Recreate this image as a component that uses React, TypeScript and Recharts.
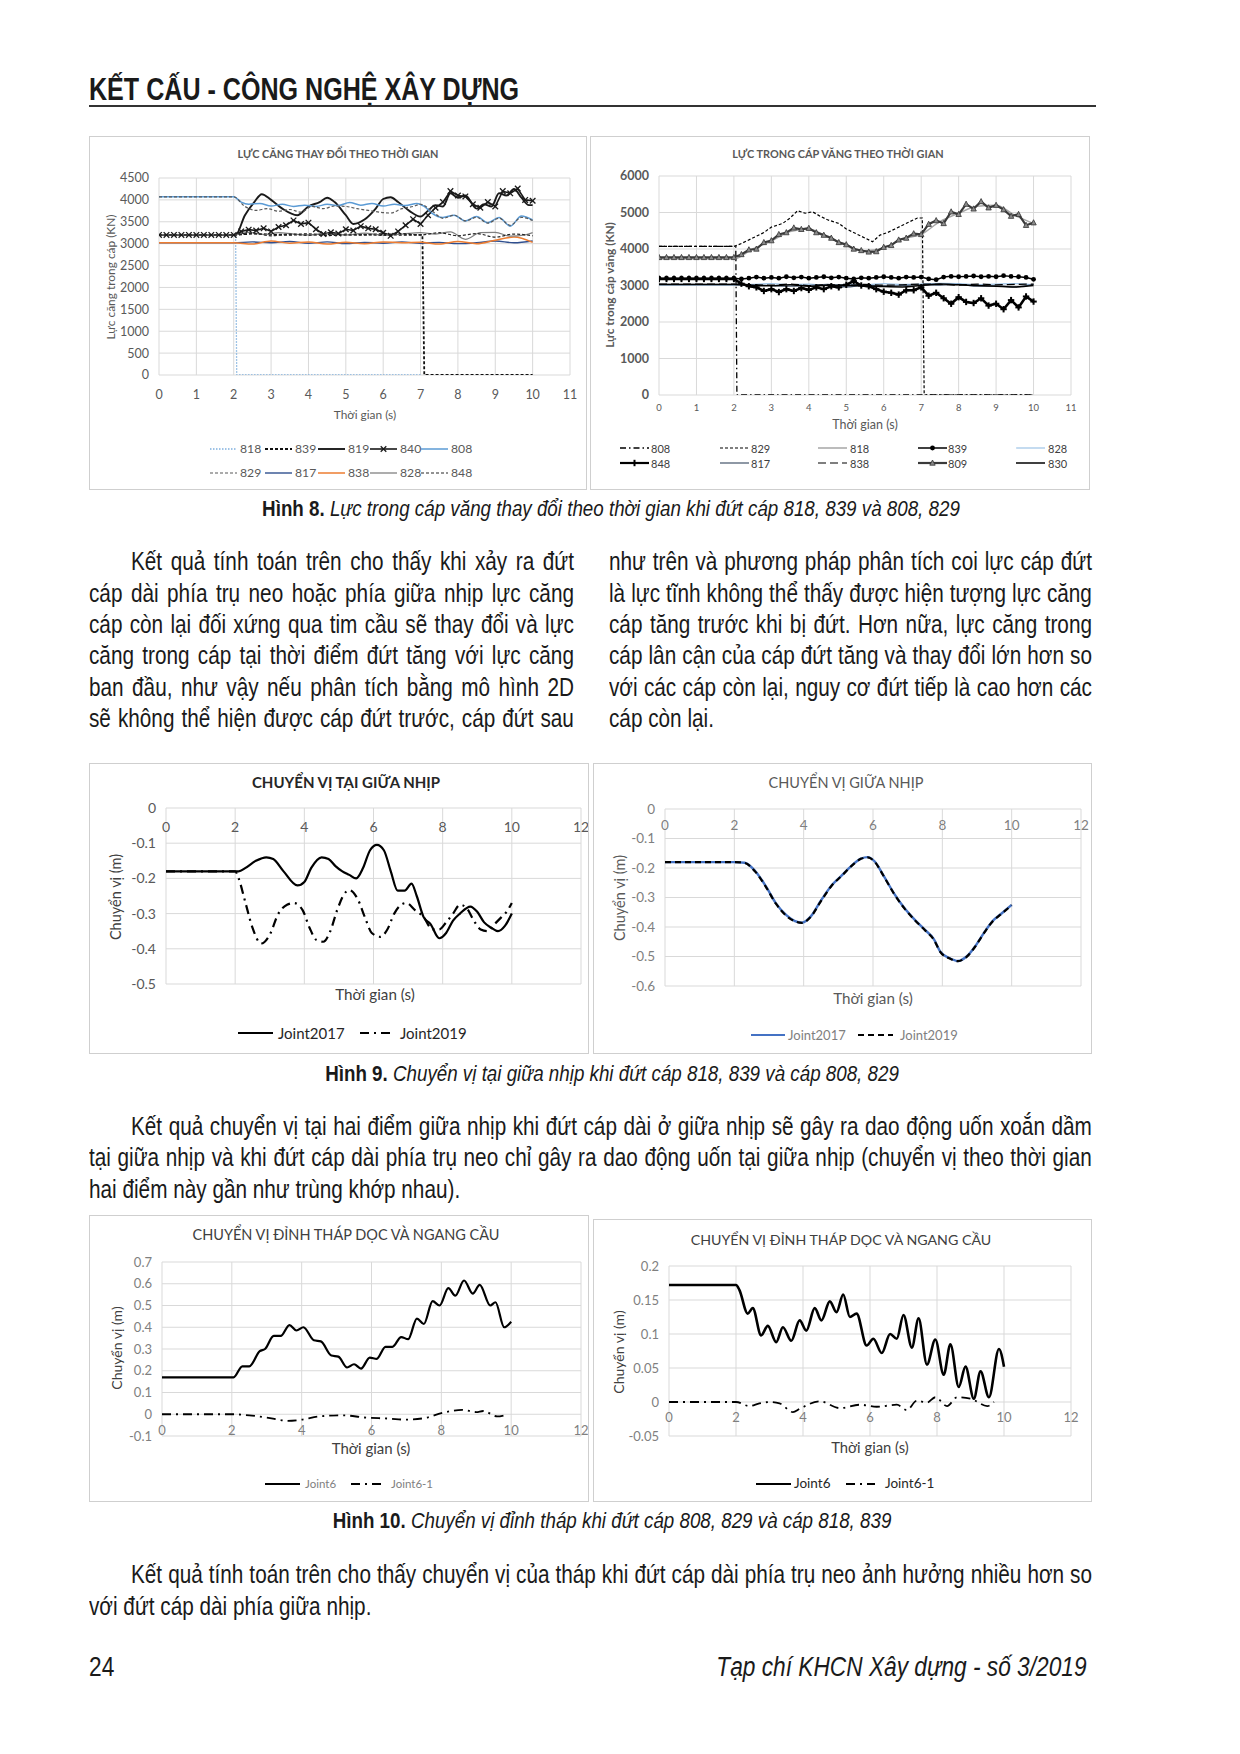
import React from 'react';
import { LineChart, Line, XAxis, YAxis, CartesianGrid } from 'recharts';

const CF = "Lato, 'Noto Sans', 'DejaVu Sans', sans-serif";
const TF = "'Liberation Sans', Arial, sans-serif";
const NARROW = 0.82;

// ---------- shared time vectors ----------
const T_STEP = [0, 0.2, 0.4, 0.6, 0.8, 1, 1.2, 1.4, 1.6, 1.8, 2, 2.2, 2.4, 2.6, 2.8, 3, 3.2, 3.4, 3.6, 3.8, 4, 4.2, 4.4, 4.6, 4.8, 5, 5.2, 5.4, 5.6, 5.8, 6, 6.2, 6.4, 6.6, 6.8, 7, 7.2, 7.4, 7.6, 7.8, 8, 8.2, 8.4, 8.6, 8.8, 9, 9.2, 9.4, 9.6, 9.8, 10];
const T_HALF = [0, 2, 2.5, 3, 3.5, 4, 4.5, 5, 5.5, 6, 6.5, 7, 7.5, 8, 8.5, 9, 9.5, 10];

// ---------- Figure 8 left: LỰC CĂNG THAY ĐỔI THEO THỜI GIAN ----------
const A_T818 = [0, 2.05, 2.08, 7.0];
const A_V818 = [3200, 3200, 0, 0];
const A_T839 = [0, 2, 2.5, 3, 3.5, 4, 4.5, 5, 5.5, 6, 6.5, 7.05, 7.1, 10];
const A_V839 = [3200, 3200, 3230, 3210, 3200, 3220, 3190, 3210, 3200, 3220, 3200, 3200, 0, 0];
const A_T819 = [0, 2.05, 2.3, 2.55, 2.75, 3.0, 3.3, 3.7, 4.0, 4.3, 4.5, 4.7, 5.0, 5.2, 5.5, 5.8, 6.0, 6.2, 6.4, 6.7, 7.0, 7.2, 7.4, 7.6, 7.8, 8.0, 8.2, 8.5, 8.7, 8.9, 9.1, 9.3, 9.5, 9.7, 9.9, 10];
const A_V819 = [3200, 3200, 3650, 3950, 4130, 4000, 3800, 3650, 3850, 3950, 4050, 3950, 3650, 3450, 3550, 3800, 4020, 4060, 3950, 3750, 3620, 3750, 3880, 3850, 4150, 4050, 4100, 3800, 3900, 3850, 4150, 4100, 4250, 4050, 3880, 3880];
const A_V840 = [3200, 3200, 3200, 3200, 3200, 3200, 3200, 3200, 3200, 3200, 3200,
  3280, 3320, 3300, 3350, 3280, 3380, 3420, 3530, 3450, 3480,
  3330, 3220, 3260, 3230, 3330, 3300, 3400, 3350, 3330, 3250,
  3180, 3280, 3420, 3560, 3450, 3650, 3820, 3950, 4200, 4100,
  4080, 3900, 3820, 3950, 3850, 4200, 4150, 4260, 4000, 3980];
const A_T808 = [0, 2.0, 2.2, 2.4, 2.7, 3.0, 3.3, 3.6, 3.9, 4.2, 4.5, 4.8, 5.1, 5.4, 5.7, 6.0, 6.3, 6.6, 6.9, 7.1, 7.3, 7.6, 7.9, 8.2, 8.5, 8.8, 9.1, 9.4, 9.7, 10];
const A_V808 = [4070, 4070, 3950, 3900, 3920, 3860, 3900, 3850, 3880, 3850, 3900, 3870, 3940, 3880, 3920, 3860, 3900, 3870, 3920, 3850, 3700, 3600, 3650, 3520, 3620, 3480, 3600, 3400, 3630, 3540];
const A_T829 = [0, 2, 2.3, 2.6, 2.9, 3.2, 3.5, 3.8, 4.1, 4.4, 4.7, 5.0, 5.3, 5.6, 5.9, 6.2, 6.5, 6.8, 7.0, 7.3, 7.6, 7.9, 8.2, 8.5, 8.8, 9.1, 9.4, 9.7, 10];
const A_V829 = [4070, 4070, 3850, 3760, 3800, 3740, 3780, 3720, 3850, 3800, 3860, 3850, 3800, 3760, 3720, 3700, 3800, 3850, 3900, 3750, 3580, 3650, 3520, 3600, 3470, 3580, 3420, 3600, 3530];
const A_V817 = [3020, 3020, 3040, 3020, 3050, 3010, 3040, 3000, 3030, 3010, 3040, 3010, 3030, 3000, 3020, 3060, 3020, 3060];
const A_V838 = [3020, 3020, 2990, 3060, 3010, 3040, 2990, 3030, 3000, 3040, 3020, 3030, 2990, 3050, 3000, 3080, 3150, 3030];
const A_T828 = [0, 2, 2.4, 2.8, 3.2, 3.6, 4, 4.5, 5, 5.5, 6, 6.5, 7, 7.4, 7.8, 8.2, 8.6, 9, 9.4, 9.8, 10];
const A_V828 = [3200, 3200, 3260, 3210, 3250, 3220, 3200, 3230, 3200, 3240, 3200, 3220, 3250, 3220, 3270, 3100, 3250, 3260, 3170, 3200, 3250];
const A_V848 = [3200, 3200, 3240, 3180, 3220, 3190, 3230, 3200, 3210, 3190, 3230, 3200, 3250, 3180, 3230, 3150, 3220, 3180];

// ---------- Figure 8 right: LỰC TRONG CÁP VĂNG THEO THỜI GIAN ----------
const B_T808 = [0, 2.05, 2.08, 10];
const B_V808 = [4070, 4070, 0, 0];
const B_T829 = [0, 2.0, 2.2, 2.5, 2.8, 3.0, 3.3, 3.5, 3.7, 3.9, 4.1, 4.3, 4.5, 4.8, 5.0, 5.3, 5.5, 5.7, 5.9, 6.1, 6.3, 6.5, 6.7, 6.9, 7.03, 7.08, 10];
const B_V829 = [4070, 4070, 4150, 4300, 4450, 4600, 4700, 4850, 5050, 4980, 5020, 4900, 4800, 4700, 4550, 4400, 4300, 4200, 4380, 4450, 4550, 4650, 4750, 4850, 4850, 0, 0];
const B_V818 = [3730, 3730, 4000, 4220, 4480, 4550, 4330, 4110, 3950, 4030, 4280, 4400, 4750, 4980, 5170, 5200, 4920, 4700];
const B_V839 = [3200, 3200, 3200, 3200, 3200, 3200, 3200, 3200, 3200, 3200, 3200,
  3180, 3200, 3230, 3200, 3220, 3200, 3240, 3210, 3230, 3200,
  3220, 3240, 3210, 3230, 3200, 3180, 3210, 3200, 3220, 3240,
  3220, 3200, 3230, 3220, 3230, 3180, 3160, 3230, 3250, 3240,
  3250, 3260, 3240, 3250, 3240, 3270, 3250, 3240, 3220, 3170];
const B_V828 = [3010, 3010, 3030, 3050, 3020, 3040, 3000, 3030, 3020, 3050, 3030, 3040, 3060, 3050, 3020, 3040, 3050, 3020];
const B_V848 = [3180, 3180, 3180, 3180, 3180, 3180, 3180, 3180, 3180, 3180, 3180,
  3050, 2980, 2950, 2850, 2900, 2820, 2900, 2850, 2930, 2880,
  2950, 2900, 2980, 2950, 3020, 3120, 3000, 2980, 2900, 2830,
  2800, 2750, 2870, 2870, 2950, 2720, 2800, 2650, 2500, 2680,
  2550, 2520, 2650, 2450, 2500, 2350, 2600, 2400, 2700, 2560];
const B_V817 = [3030, 3030, 3020, 3000, 2980, 3000, 3030, 2960, 3010, 2990, 3000, 3020, 3010, 3030, 2980, 2990, 2960, 3030];
const B_V838 = [3040, 3040, 3020, 3010, 3040, 3000, 3020, 3010, 3030, 3010, 3020, 3040, 3030, 3010, 3040, 3020, 3030, 3040];
const B_V809 = [3770, 3770, 3770, 3770, 3770, 3770, 3770, 3770, 3770, 3770, 3770,
  3850, 3980, 4000, 4180, 4230, 4400, 4450, 4580, 4540, 4570,
  4450, 4380, 4300, 4180, 4120, 4000, 3960, 3920, 3930, 4050,
  4100, 4250, 4300, 4420, 4400, 4680, 4780, 4700, 5020, 4950,
  5230, 5100, 5300, 5130, 5200, 5080, 4900, 4950, 4650, 4720];
const B_V830 = [3030, 3030, 3000, 2990, 3020, 2980, 3010, 3000, 2990, 2970, 2960, 3000, 3040, 3020, 3000, 2980, 2960, 3000];

// ---------- Figure 9 left: CHUYỂN VỊ TẠI GIỮA NHỊP ----------
const C_T2017 = [0, 1, 2, 2.1, 2.3, 2.6, 2.9, 3.1, 3.4, 3.8, 4.0, 4.2, 4.5, 4.7, 4.9, 5.1, 5.3, 5.5, 5.7, 5.9, 6.1, 6.3, 6.5, 6.7, 6.9, 7.1, 7.25, 7.45, 7.65, 7.9, 8.1, 8.3, 8.5, 8.8, 9.0, 9.2, 9.4, 9.6, 9.8, 10];
const C_V2017 = [-0.18, -0.18, -0.18, -0.18, -0.17, -0.15, -0.14, -0.145, -0.18, -0.22, -0.21, -0.17, -0.14, -0.145, -0.165, -0.18, -0.19, -0.2, -0.17, -0.12, -0.105, -0.12, -0.18, -0.235, -0.235, -0.215, -0.25, -0.31, -0.33, -0.37, -0.355, -0.32, -0.3, -0.28, -0.295, -0.325, -0.34, -0.35, -0.335, -0.3];
const C_T2019 = [0, 1, 2, 2.1, 2.3, 2.5, 2.75, 3.0, 3.25, 3.5, 3.7, 3.95, 4.15, 4.35, 4.55, 4.75, 4.95, 5.15, 5.3, 5.55, 5.75, 5.95, 6.2, 6.4, 6.6, 6.8, 6.95, 7.2, 7.45, 7.7, 7.9, 8.1, 8.3, 8.5, 8.7, 8.9, 9.1, 9.3, 9.5, 9.7, 9.85, 10];
const C_V2019 = [-0.18, -0.18, -0.18, -0.2, -0.27, -0.34, -0.385, -0.36, -0.3, -0.275, -0.27, -0.29, -0.34, -0.375, -0.38, -0.35, -0.29, -0.245, -0.233, -0.26, -0.31, -0.355, -0.366, -0.345, -0.3, -0.275, -0.27, -0.29, -0.31, -0.345, -0.345, -0.325, -0.3, -0.275, -0.285, -0.32, -0.345, -0.35, -0.33, -0.31, -0.295, -0.27];

// ---------- Figure 9 right: CHUYỂN VỊ GIỮA NHỊP ----------
const D_T = [0, 1, 2, 2.3, 2.6, 2.9, 3.2, 3.5, 3.75, 3.95, 4.2, 4.5, 4.8, 5.1, 5.4, 5.65, 5.85, 6.05, 6.3, 6.6, 6.9, 7.2, 7.5, 7.75, 7.95, 8.2, 8.45, 8.7, 8.95, 9.2, 9.45, 9.7, 10];
const D_V2017 = [-0.18, -0.18, -0.18, -0.182, -0.21, -0.26, -0.32, -0.36, -0.38, -0.385, -0.365, -0.31, -0.26, -0.225, -0.19, -0.168, -0.163, -0.178, -0.225, -0.285, -0.335, -0.375, -0.41, -0.44, -0.485, -0.505, -0.515, -0.5, -0.465, -0.42, -0.38, -0.355, -0.325];
const D_V2019 = [-0.18, -0.18, -0.18, -0.183, -0.212, -0.262, -0.321, -0.362, -0.381, -0.386, -0.366, -0.312, -0.261, -0.226, -0.191, -0.169, -0.164, -0.179, -0.226, -0.286, -0.336, -0.376, -0.411, -0.442, -0.486, -0.506, -0.516, -0.501, -0.466, -0.421, -0.381, -0.356, -0.326];

// ---------- Figure 10 left: CHUYỂN VỊ ĐỈNH THÁP DỌC VÀ NGANG CẦU ----------
const E_T6 = [0, 1, 2.05, 2.3, 2.5, 2.8, 2.95, 3.2, 3.4, 3.65, 3.85, 4.05, 4.35, 4.55, 4.85, 5.05, 5.3, 5.5, 5.7, 5.95, 6.15, 6.4, 6.6, 6.85, 7.05, 7.3, 7.5, 7.75, 7.95, 8.2, 8.4, 8.65, 8.9, 9.1, 9.4, 9.55, 9.8, 10];
const E_V6 = [0.17, 0.17, 0.17, 0.22, 0.22, 0.29, 0.3, 0.36, 0.36, 0.41, 0.385, 0.4, 0.34, 0.335, 0.27, 0.265, 0.215, 0.23, 0.21, 0.26, 0.255, 0.31, 0.31, 0.355, 0.345, 0.44, 0.415, 0.52, 0.5, 0.58, 0.545, 0.615, 0.555, 0.595, 0.5, 0.515, 0.4, 0.425];
const E_T61 = [0, 1, 2, 2.5, 3.0, 3.6, 4, 4.5, 5.2, 5.8, 6.5, 7, 7.6, 8, 8.6, 9.0, 9.2, 9.6, 9.8];
const E_V61 = [0, 0, 0, -0.005, -0.015, -0.03, -0.025, -0.01, -0.005, -0.015, -0.02, -0.025, -0.015, 0.005, 0.02, 0.01, 0.015, -0.01, -0.005];

// ---------- Figure 10 right ----------
const F_T6 = [0, 1, 2.0, 2.1, 2.35, 2.5, 2.75, 2.95, 3.2, 3.4, 3.65, 3.9, 4.1, 4.35, 4.55, 4.8, 5.0, 5.2, 5.4, 5.6, 5.9, 6.1, 6.35, 6.6, 6.8, 7.0, 7.25, 7.45, 7.7, 7.95, 8.2, 8.4, 8.65, 8.85, 9.1, 9.3, 9.55, 9.85, 10];
const F_V6 = [0.172, 0.172, 0.172, 0.165, 0.13, 0.138, 0.098, 0.112, 0.088, 0.11, 0.09, 0.12, 0.105, 0.138, 0.12, 0.148, 0.132, 0.158, 0.125, 0.13, 0.083, 0.093, 0.072, 0.1, 0.093, 0.128, 0.08, 0.123, 0.055, 0.092, 0.04, 0.085, 0.022, 0.052, 0.005, 0.045, 0.007, 0.078, 0.052];
const F_T61 = [0, 1, 2, 2.4, 2.7, 3.0, 3.3, 3.7, 3.9, 4.5, 5.1, 5.7, 6.2, 6.8, 7.1, 7.4, 7.7, 7.95, 8.3, 8.6, 9.0, 9.5, 9.7];
const F_V61 = [0, 0, 0, -0.006, -0.002, 0, -0.002, -0.015, -0.01, 0.001, -0.009, -0.004, -0.007, -0.004, -0.012, 0.002, -0.001, 0.007, -0.006, 0.007, 0.005, -0.006, 0];

// ---------- axis ticks ----------
const X_TICKS_11 = [0, 1, 2, 3, 4, 5, 6, 7, 8, 9, 10, 11];
const X_TICKS_12 = [0, 2, 4, 6, 8, 10, 12];
const A_Y_TICKS = [0, 500, 1000, 1500, 2000, 2500, 3000, 3500, 4000, 4500];
const B_Y_TICKS = [0, 1000, 2000, 3000, 4000, 5000, 6000];
const C_Y_TICKS = [-0.5, -0.4, -0.3, -0.2, -0.1, 0];
const D_Y_TICKS = [-0.6, -0.5, -0.4, -0.3, -0.2, -0.1, 0];
const E_Y_TICKS = [-0.1, 0, 0.1, 0.2, 0.3, 0.4, 0.5, 0.6, 0.7];
const F_Y_TICKS = [-0.05, 0, 0.05, 0.1, 0.15, 0.2];

type S = { name: string; t: number[]; v: number[]; color: string; w: number; dash?: string; curve?: 'monotone' | 'linear'; marker?: string };

const pts = (t: number[], v: number[]) => t.map((x, i) => ({ t: x, v: v[i] }));
const fmt = (n: number) => String(Math.round(n * 1000) / 1000);

function Mark({ kind, cx, cy, color }: any) {
  if (cx == null || cy == null) return null;
  if (kind === 'x') return (
    <g>
      <line x1={cx - 2.8} y1={cy - 2.8} x2={cx + 2.8} y2={cy + 2.8} stroke={color} strokeWidth={1.3} />
      <line x1={cx - 2.8} y1={cy + 2.8} x2={cx + 2.8} y2={cy - 2.8} stroke={color} strokeWidth={1.3} />
    </g>
  );
  if (kind === 'circle') return <circle cx={cx} cy={cy} r={2.4} fill={color} />;
  if (kind === 'plus') return (
    <g>
      <line x1={cx - 3.2} y1={cy} x2={cx + 3.2} y2={cy} stroke={color} strokeWidth={2} />
      <line x1={cx} y1={cy - 3.2} x2={cx} y2={cy + 3.2} stroke={color} strokeWidth={2} />
    </g>
  );
  if (kind === 'tri') return <polygon points={`${cx},${cy - 3} ${cx + 2.7},${cy + 2.2} ${cx - 2.7},${cy + 2.2}`} fill="#8a8a8a" stroke="#333" strokeWidth={0.8} />;
  return null;
}

type Txt = { text: string; x: number; y: number; size: number; color: string; weight?: number };
type Leg = { name: string; x: number; y: number; len: number; tx: number };
type PanelProps = {
  box: number[]; plot: number[];
  xDomain: number[]; xTicks: number[]; yDomain: number[]; yTicks: number[];
  xTickDy: number; xTickSize: number; xTickColor: string;
  yTickSize: number; yTickColor: string; yTickWeight?: number;
  title: Txt; xLabel: Txt; yLabel: Txt;
  series: S[]; legend: Leg[]; legendSize: number; legendColor: string;
};

function Panel(p: PanelProps) {
  const [bl, bt, bw, bh] = p.box;
  const [pl, ptop, pr, pb] = p.plot;
  const byName: Record<string, S> = {};
  p.series.forEach((s) => { byName[s.name] = s; });
  const label = (t: Txt, rotate: boolean) => (
    <div style={{ position: 'absolute', left: t.x, top: t.y, transform: `translate(-50%, -50%)${rotate ? ' rotate(-90deg)' : ''}`, whiteSpace: 'nowrap', fontFamily: CF, fontSize: t.size, color: t.color, fontWeight: t.weight ?? 400, lineHeight: 1 }}>{t.text}</div>
  );
  return (
    <div style={{ position: 'absolute', left: bl, top: bt, width: bw, height: bh, background: '#fff' }}>
      <LineChart width={bw} height={bh} margin={{ top: ptop - bt, right: bl + bw - pr, left: 0, bottom: 0 }}>
        <CartesianGrid stroke="#d9d9d9" strokeWidth={1} />
        <XAxis type="number" dataKey="t" domain={p.xDomain} ticks={p.xTicks} interval={0} height={bt + bh - pb}
          axisLine={false} tickLine={false} tickSize={0} tickMargin={0} allowDataOverflow
          tick={(q: any) => (
            <text x={q.x} y={q.y + p.xTickDy} textAnchor="middle" dominantBaseline="central" fontSize={p.xTickSize} fill={p.xTickColor} fontFamily={CF}>{fmt(q.payload.value)}</text>
          )} />
        <YAxis type="number" domain={p.yDomain} ticks={p.yTicks} interval={0} width={pl - bl}
          axisLine={false} tickLine={false} tickSize={0} tickMargin={10} allowDataOverflow tickFormatter={fmt}
          tick={{ fontSize: p.yTickSize, fill: p.yTickColor, fontWeight: p.yTickWeight ?? 400, fontFamily: CF }} />
        {p.series.map((s) => (
          <Line key={s.name} data={pts(s.t, s.v)} dataKey="v" type={s.curve ?? 'monotone'} stroke={s.color}
            strokeWidth={s.w} strokeDasharray={s.dash}
            dot={s.marker ? ((d: any) => <Mark key={`${s.name}-${d.index}`} kind={s.marker} cx={d.cx} cy={d.cy} color={s.marker === 'tri' ? '#333' : s.color} />) : false}
            activeDot={false} isAnimationActive={false} />
        ))}
      </LineChart>
      {label(p.title, false)}
      {label(p.xLabel, false)}
      {label(p.yLabel, true)}
      {p.legend.map((l) => {
        const s = byName[l.name];
        return (
          <React.Fragment key={`lg-${l.name}`}>
            <svg width={l.len} height={10} style={{ position: 'absolute', left: l.x, top: l.y - 5, overflow: 'visible' }}>
              <line x1={0} y1={5} x2={l.len} y2={5} stroke={s.color} strokeWidth={Math.min(s.w, 2.2)} strokeDasharray={s.dash} />
              {s.marker ? <Mark kind={s.marker} cx={l.len / 2} cy={5} color={s.color} /> : null}
            </svg>
            <div style={{ position: 'absolute', left: l.tx, top: l.y, transform: 'translateY(-50%)', fontFamily: CF, fontSize: p.legendSize, color: p.legendColor, lineHeight: 1, whiteSpace: 'nowrap' }}>{s.name}</div>
          </React.Fragment>
        );
      })}
      <div style={{ position: 'absolute', inset: 0, border: '1px solid #cfcfcf', pointerEvents: 'none' }} />
    </div>
  );
}

// ---------- series definitions ----------
const A_SERIES: S[] = [
  { name: '818', t: A_T818, v: A_V818, color: '#7fb0de', w: 1.3, dash: '1.5 1.5', curve: 'linear' },
  { name: '839', t: A_T839, v: A_V839, color: '#111', w: 1.8, dash: '3 2', curve: 'linear' },
  { name: '819', t: A_T819, v: A_V819, color: '#1a1a1a', w: 1.9 },
  { name: '840', t: T_STEP, v: A_V840, color: '#1a1a1a', w: 1.6, curve: 'linear', marker: 'x' },
  { name: '808', t: A_T808, v: A_V808, color: '#5b9bd5', w: 1.5 },
  { name: '829', t: A_T829, v: A_V829, color: '#595959', w: 1.2, dash: '3 2' },
  { name: '817', t: T_HALF, v: A_V817, color: '#2f4f8f', w: 1.4 },
  { name: '838', t: T_HALF, v: A_V838, color: '#ed7d31', w: 1.5 },
  { name: '828', t: A_T828, v: A_V828, color: '#808080', w: 1.3 },
  { name: '848', t: T_HALF, v: A_V848, color: '#262626', w: 1.2, dash: '3 2' },
];
const B_SERIES: S[] = [
  { name: '808', t: B_T808, v: B_V808, color: '#000', w: 1.3, dash: '6 3 1.5 3', curve: 'linear' },
  { name: '829', t: B_T829, v: B_V829, color: '#000', w: 1.2, dash: '3 2', curve: 'linear' },
  { name: '818', t: T_HALF, v: B_V818, color: '#a6a6a6', w: 1.5 },
  { name: '839', t: T_STEP, v: B_V839, color: '#000', w: 1.5, curve: 'linear', marker: 'circle' },
  { name: '828', t: T_HALF, v: B_V828, color: '#9dc3e6', w: 1.2 },
  { name: '848', t: T_STEP, v: B_V848, color: '#000', w: 2.6, curve: 'linear', marker: 'plus' },
  { name: '817', t: T_HALF, v: B_V817, color: '#44546a', w: 1.2 },
  { name: '838', t: T_HALF, v: B_V838, color: '#000', w: 1.2, dash: '8 4' },
  { name: '809', t: T_STEP, v: B_V809, color: '#3a3a3a', w: 2.2, curve: 'linear', marker: 'tri' },
  { name: '830', t: T_HALF, v: B_V830, color: '#000', w: 1.5 },
];
const C_SERIES: S[] = [
  { name: 'Joint2017', t: C_T2017, v: C_V2017, color: '#000', w: 2.2 },
  { name: 'Joint2019', t: C_T2019, v: C_V2019, color: '#000', w: 2.2, dash: '9 5 2 5' },
];
const D_SERIES: S[] = [
  { name: 'Joint2017', t: D_T, v: D_V2017, color: '#4472c4', w: 2.4 },
  { name: 'Joint2019', t: D_T, v: D_V2019, color: '#000', w: 2.2, dash: '6 4' },
];
const E_SERIES: S[] = [
  { name: 'Joint6', t: E_T6, v: E_V6, color: '#000', w: 2.2 },
  { name: 'Joint6-1', t: E_T61, v: E_V61, color: '#000', w: 1.8, dash: '9 5 2 5' },
];
const F_SERIES: S[] = [
  { name: 'Joint6', t: F_T6, v: F_V6, color: '#000', w: 2.6 },
  { name: 'Joint6-1', t: F_T61, v: F_V61, color: '#000', w: 1.8, dash: '9 5 2 5' },
];

// ---------- page text ----------
function TLine({ x, cy, w, size, text, justify, weight, italic, narrow }: any) {
  const k = narrow ?? NARROW;
  const style: React.CSSProperties = {
    position: 'absolute', left: x, top: cy - 0.59 * size, fontFamily: TF, fontSize: size,
    lineHeight: `${size * 1.2}px`, whiteSpace: 'nowrap', color: '#1a1a1a', fontWeight: weight || 400,
    fontStyle: italic ? 'italic' : 'normal', transform: `scaleX(${k})`, transformOrigin: '0 0',
  };
  if (justify) {
    return (
      <div style={{ ...style, width: w / k, display: 'flex', justifyContent: 'space-between' }}>
        {String(text).split(' ').map((s: string, i: number) => <span key={i}>{s}</span>)}
      </div>
    );
  }
  return <div style={style}>{text}</div>;
}

function Caption({ cx, cy, lead, rest }: any) {
  const size = 22.9;
  return (
    <div style={{ position: 'absolute', left: cx - 620, width: 1240, top: cy - 0.59 * size, textAlign: 'center', fontFamily: TF, fontSize: size, lineHeight: `${size * 1.2}px`, whiteSpace: 'nowrap', color: '#1a1a1a', transform: `scaleX(${NARROW})`, transformOrigin: '50% 0' }}>
      <span style={{ fontWeight: 700 }}>{lead}</span><span style={{ fontStyle: 'italic' }}>{rest}</span>
    </div>
  );
}

const P1_LEFT = [
  'Kết quả tính toán trên cho thấy khi xảy ra đứt',
  'cáp dài phía trụ neo hoặc phía giữa nhịp lực căng',
  'cáp còn lại đối xứng qua tim cầu sẽ thay đổi và lực',
  'căng trong cáp tại thời điểm đứt tăng với lực căng',
  'ban đầu, như vậy nếu phân tích bằng mô hình 2D',
  'sẽ không thể hiện được cáp đứt trước, cáp đứt sau',
];
const P1_RIGHT = [
  'như trên và phương pháp phân tích coi lực cáp đứt',
  'là lực tĩnh không thể thấy được hiện tượng lực căng',
  'cáp tăng trước khi bị đứt. Hơn nữa, lực căng trong',
  'cáp lân cận của cáp đứt tăng và thay đổi lớn hơn so',
  'với các cáp còn lại, nguy cơ đứt tiếp là cao hơn các',
  'cáp còn lại.',
];
const P2 = [
  'Kết quả chuyển vị tại hai điểm giữa nhịp khi đứt cáp dài ở giữa nhịp sẽ gây ra dao động uốn xoắn dầm',
  'tại giữa nhịp và khi đứt cáp dài phía trụ neo chỉ gây ra dao động uốn tại giữa nhịp (chuyển vị theo thời gian',
  'hai điểm này gần như trùng khớp nhau).',
];
const P3 = [
  'Kết quả tính toán trên cho thấy chuyển vị của tháp khi đứt cáp dài phía trụ neo ảnh hưởng nhiều hơn so',
  'với đứt cáp dài phía giữa nhịp.',
];
const P1_Y = [561.3, 592.6, 623.9, 655.2, 686.5, 717.8];
const P2_Y = [1126, 1157.3, 1188.6];
const P3_Y = [1574.3, 1605.6];

export default function App() {
  const BODY = 25.3;
  return (
    <div style={{ position: 'absolute', left: 0, top: 0, width: 1240, height: 1754, background: '#fff', overflow: 'hidden' }}>
      <TLine x={89} cy={89} size={30.6} weight={700} text="KẾT CẤU - CÔNG NGHỆ XÂY DỰNG" />
      <div style={{ position: 'absolute', left: 89, top: 105, width: 1007, height: 1.5, background: '#333' }} />

      <Panel box={[89, 136, 498, 354]} plot={[159, 178, 570, 375]}
        xDomain={[0, 11]} xTicks={X_TICKS_11} yDomain={[0, 4500]} yTicks={A_Y_TICKS}
        xTickDy={19} xTickSize={12.5} xTickColor="#595959" yTickSize={12.5} yTickColor="#595959"
        title={{ text: 'LỰC CĂNG THAY ĐỔI THEO THỜI GIAN', x: 249, y: 18, size: 10.9, color: '#595959', weight: 700 }}
        xLabel={{ text: 'Thời gian (s)', x: 276, y: 279, size: 11.9, color: '#595959' }}
        yLabel={{ text: 'Lực căng trong cáp (KN)', x: 22, y: 141, size: 11.9, color: '#595959' }}
        series={A_SERIES} legendSize={12.2} legendColor="#595959"
        legend={[
          { name: '818', x: 121, y: 313, len: 27, tx: 151 }, { name: '839', x: 176, y: 313, len: 27, tx: 206 },
          { name: '819', x: 229, y: 313, len: 27, tx: 259 }, { name: '840', x: 281, y: 313, len: 27, tx: 311 },
          { name: '808', x: 332, y: 313, len: 27, tx: 362 },
          { name: '829', x: 121, y: 337, len: 27, tx: 151 }, { name: '817', x: 176, y: 337, len: 27, tx: 206 },
          { name: '838', x: 229, y: 337, len: 27, tx: 259 }, { name: '828', x: 281, y: 337, len: 27, tx: 311 },
          { name: '848', x: 332, y: 337, len: 27, tx: 362 },
        ]} />

      <Panel box={[590, 136, 500, 354]} plot={[659, 176, 1071, 395]}
        xDomain={[0, 11]} xTicks={X_TICKS_11} yDomain={[0, 6000]} yTicks={B_Y_TICKS}
        xTickDy={12} xTickSize={9.5} xTickColor="#595959" yTickSize={12.5} yTickColor="#595959" yTickWeight={700}
        title={{ text: 'LỰC TRONG CÁP VĂNG THEO THỜI GIAN', x: 248, y: 18, size: 10.9, color: '#595959', weight: 700 }}
        xLabel={{ text: 'Thời gian (s)', x: 275, y: 289, size: 12.5, color: '#595959' }}
        yLabel={{ text: 'Lực trong cáp văng (KN)', x: 20, y: 149, size: 11.8, color: '#595959', weight: 700 }}
        series={B_SERIES} legendSize={11} legendColor="#404040"
        legend={[
          { name: '808', x: 30, y: 312, len: 29, tx: 61 }, { name: '829', x: 130, y: 312, len: 29, tx: 161 },
          { name: '818', x: 228, y: 312, len: 29, tx: 260 }, { name: '839', x: 328, y: 312, len: 29, tx: 358 },
          { name: '828', x: 426, y: 312, len: 29, tx: 458 },
          { name: '848', x: 30, y: 327, len: 29, tx: 61 }, { name: '817', x: 130, y: 327, len: 29, tx: 161 },
          { name: '838', x: 228, y: 327, len: 29, tx: 260 }, { name: '809', x: 328, y: 327, len: 29, tx: 358 },
          { name: '830', x: 426, y: 327, len: 29, tx: 458 },
        ]} />

      <Caption cx={611} cy={508.7} lead="Hình 8." rest=" Lực trong cáp văng thay đổi theo thời gian khi đứt cáp 818, 839 và 808, 829" />

      {P1_LEFT.map((t, i) => (
        <TLine key={`l${i}`} x={i === 0 ? 131 : 89} cy={P1_Y[i]} w={i === 0 ? 443 : 485} size={BODY} text={t} justify />
      ))}
      {P1_RIGHT.map((t, i) => (
        <TLine key={`r${i}`} x={609} cy={P1_Y[i]} w={483} size={BODY} text={t} justify={i < 5} />
      ))}

      <Panel box={[89, 763, 500, 291]} plot={[166, 808, 581, 984]}
        xDomain={[0, 12]} xTicks={X_TICKS_12} yDomain={[-0.5, 0]} yTicks={C_Y_TICKS}
        xTickDy={-158} xTickSize={14} xTickColor="#595959" yTickSize={14} yTickColor="#595959"
        title={{ text: 'CHUYỂN VỊ TẠI GIỮA NHỊP', x: 257, y: 19, size: 15, color: '#262626', weight: 700 }}
        xLabel={{ text: 'Thời gian (s)', x: 286, y: 232, size: 15.2, color: '#404040' }}
        yLabel={{ text: 'Chuyển vị (m)', x: 27, y: 134, size: 14.5, color: '#404040' }}
        series={C_SERIES} legendSize={15} legendColor="#262626"
        legend={[
          { name: 'Joint2017', x: 149, y: 270, len: 35, tx: 189 },
          { name: 'Joint2019', x: 271, y: 270, len: 30, tx: 311 },
        ]} />

      <Panel box={[593, 763, 499, 291]} plot={[665, 809, 1081, 986]}
        xDomain={[0, 12]} xTicks={X_TICKS_12} yDomain={[-0.6, 0]} yTicks={D_Y_TICKS}
        xTickDy={-161} xTickSize={13.5} xTickColor="#7f7f7f" yTickSize={13.5} yTickColor="#7f7f7f"
        title={{ text: 'CHUYỂN VỊ GIỮA NHỊP', x: 253, y: 20, size: 14.5, color: '#595959' }}
        xLabel={{ text: 'Thời gian (s)', x: 280, y: 236, size: 15.2, color: '#595959' }}
        yLabel={{ text: 'Chuyển vị (m)', x: 27, y: 135, size: 14.5, color: '#595959' }}
        series={D_SERIES} legendSize={13} legendColor="#7f7f7f"
        legend={[
          { name: 'Joint2017', x: 158, y: 272, len: 34, tx: 195 },
          { name: 'Joint2019', x: 265, y: 272, len: 35, tx: 307 },
        ]} />

      <Caption cx={612} cy={1073.4} lead="Hình 9." rest=" Chuyển vị tại giữa nhịp khi đứt cáp 818, 839 và cáp 808, 829" />

      {P2.map((t, i) => (
        <TLine key={`p2${i}`} x={i === 0 ? 131 : 89} cy={P2_Y[i]} w={i === 0 ? 961 : 1003} size={BODY} text={t} justify={i < 2} />
      ))}

      <Panel box={[89, 1215, 500, 287]} plot={[162, 1262, 581, 1436]}
        xDomain={[0, 12]} xTicks={X_TICKS_12} yDomain={[-0.1, 0.7]} yTicks={E_Y_TICKS}
        xTickDy={-6} xTickSize={13} xTickColor="#7f7f7f" yTickSize={13} yTickColor="#7f7f7f"
        title={{ text: 'CHUYỂN VỊ ĐỈNH THÁP DỌC VÀ NGANG CẦU', x: 257, y: 20, size: 14.5, color: '#404040' }}
        xLabel={{ text: 'Thời gian (s)', x: 282, y: 233, size: 15, color: '#404040' }}
        yLabel={{ text: 'Chuyển vị (m)', x: 28, y: 133, size: 14, color: '#404040' }}
        series={E_SERIES} legendSize={11.5} legendColor="#7f7f7f"
        legend={[
          { name: 'Joint6', x: 176, y: 269, len: 35, tx: 216 },
          { name: 'Joint6-1', x: 262, y: 269, len: 30, tx: 302 },
        ]} />

      <Panel box={[593, 1219, 499, 283]} plot={[669, 1266, 1071, 1436]}
        xDomain={[0, 12]} xTicks={X_TICKS_12} yDomain={[-0.05, 0.2]} yTicks={F_Y_TICKS}
        xTickDy={-19} xTickSize={13} xTickColor="#7f7f7f" yTickSize={13} yTickColor="#7f7f7f"
        title={{ text: 'CHUYỂN VỊ ĐỈNH THÁP DỌC VÀ NGANG CẦU', x: 248, y: 21, size: 14.2, color: '#404040' }}
        xLabel={{ text: 'Thời gian (s)', x: 277, y: 228, size: 14.8, color: '#404040' }}
        yLabel={{ text: 'Chuyển vị (m)', x: 26, y: 133, size: 14, color: '#404040' }}
        series={F_SERIES} legendSize={13.5} legendColor="#262626"
        legend={[
          { name: 'Joint6', x: 163, y: 265, len: 35, tx: 201 },
          { name: 'Joint6-1', x: 253, y: 265, len: 29, tx: 292 },
        ]} />

      <Caption cx={612} cy={1520.6} lead="Hình 10." rest=" Chuyển vị đỉnh tháp khi đứt cáp 808, 829 và cáp 818, 839" />

      {P3.map((t, i) => (
        <TLine key={`p3${i}`} x={i === 0 ? 131 : 89} cy={P3_Y[i]} w={961} size={BODY} text={t} justify={i < 1} />
      ))}

      <TLine x={89} cy={1666} size={27.7} text="24" />
      <div style={{ position: 'absolute', right: 1240 - 1087, top: 1666 - 0.59 * 27.7, fontFamily: TF, fontSize: 27.7, lineHeight: `${27.7 * 1.2}px`, fontStyle: 'italic', whiteSpace: 'nowrap', color: '#1a1a1a', transform: `scaleX(${NARROW})`, transformOrigin: '100% 0' }}>
        Tạp chí KHCN Xây dựng - số 3/2019
      </div>
    </div>
  );
}
